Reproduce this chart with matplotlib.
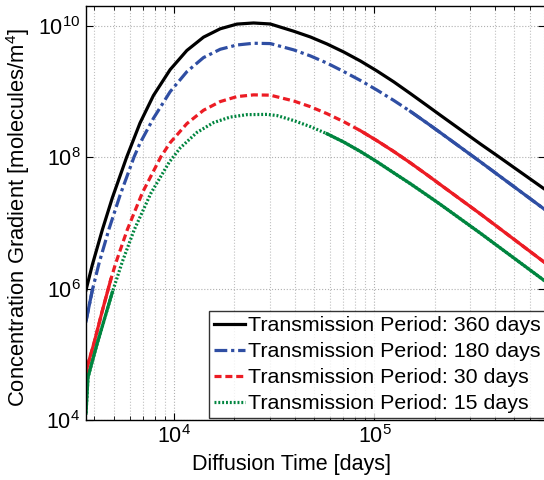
import numpy as np
import matplotlib
matplotlib.use('Agg')
import matplotlib.pyplot as plt
from matplotlib.ticker import FixedLocator, LogLocator, NullFormatter, NullLocator

plt.rcParams['font.family'] = ['Liberation Sans', 'DejaVu Sans']
plt.rcParams['mathtext.fontset'] = 'custom'
plt.rcParams['mathtext.rm'] = 'Liberation Sans'
plt.rcParams['mathtext.it'] = 'Liberation Sans:italic'

# Diffusion time [days] and concentration gradient
x_360 = [3631, 3905, 4381, 4915, 5801, 6761, 7880, 9550, 11574, 14016, 16982,
         20586, 24920, 30200, 39500, 47860, 58000, 70230, 85110, 103000,
         124900, 151400, 183400, 213800, 338800, 410800, 707900]
y_360 = [9.49e5, 2.30e6, 7.85e6, 2.41e7, 1.01e8, 3.33e8, 8.67e8, 2.15e9,
         4.21e9, 6.71e9, 9.00e9, 1.061e10, 1.103e10, 1.065e10, 8.27e9, 6.76e9,
         5.28e9, 3.99e9, 2.91e9, 2.05e9, 1.40e9, 9.26e8, 6.08e8, 4.33e8,
         1.58e8, 1.05e8, 3.25e7]

x_180 = [3631, 3905, 4217, 4732, 5370, 6310, 6761, 7880, 9550, 11574, 14016,
         16982, 20586, 24920, 30200, 39500, 47860, 58000, 70230, 85110,
         103000, 124900, 151400, 183400, 213800, 338800, 707900]
y_180 = [3.20e5, 9.46e5, 2.42e6, 8.11e6, 2.63e7, 1.01e8, 1.64e8, 3.90e8,
         9.93e8, 2.00e9, 3.28e9, 4.39e9, 5.10e9, 5.42e9, 5.36e9, 4.30e9,
         3.48e9, 2.70e9, 2.01e9, 1.47e9, 1.05e9, 7.30e8, 4.96e8, 3.29e8,
         2.35e8, 8.45e7, 1.60e7]

x_30 = [3631, 3686, 3981, 4381, 4826, 5110, 5842, 6943, 8579, 9550, 11574,
        14016, 16982, 20586, 24920, 30200, 39500, 47860, 58000, 70230, 85110,
        103000, 124900, 151400, 183400, 213800, 338800, 707900]
y_30 = [3.06e4, 6.50e4, 1.48e5, 4.61e5, 1.37e6, 2.44e6, 7.94e6, 2.88e7,
        1.01e8, 1.66e8, 3.24e8, 5.18e8, 7.02e8, 8.36e8, 8.88e8, 8.79e8,
        7.17e8, 5.87e8, 4.59e8, 3.47e8, 2.53e8, 1.78e8, 1.22e8, 8.16e7,
        5.36e7, 3.80e7, 1.36e7, 2.49e6]

x_15 = [3631, 3715, 3905, 4136, 4915, 5514, 6310, 7646, 9441, 10715, 12990,
        15730, 19050, 23090, 29070, 32620, 39500, 47860, 58000, 70230, 85110,
        103000, 124900, 151400, 183400, 213800, 338800, 707900]
y_15 = [1.27e4, 4.44e4, 7.85e4, 1.48e5, 8.81e5, 2.57e6, 7.76e6, 2.81e7,
        8.36e7, 1.38e8, 2.38e8, 3.36e8, 4.08e8, 4.44e8, 4.48e8, 4.30e8,
        3.61e8, 2.92e8, 2.27e8, 1.70e8, 1.22e8, 8.51e7, 5.77e7, 3.93e7,
        2.63e7, 1.90e7, 6.92e6, 1.31e6]

y_ticks = [1e4, 1e6, 1e8, 1e10]
x_ticks = [1e4, 1e5]

labels = ['Transmission Period: 360 days', 'Transmission Period: 180 days',
          'Transmission Period: 30 days', 'Transmission Period: 15 days']

# (x, y, color, linestyle, where the dense sampling makes it look solid: below / above)
series = [
    (x_360, y_360, 'black', '-', None, None),
    (x_180, y_180, '#2f4ea3', (0, (4, 1.2, 1, 1.2)), 3910, 150000),
    (x_30, y_30, '#ec1c24', (0, (2.2, 1.2)), 4830, 85000),
    (x_15, y_15, '#00853f', (0, (0.6, 0.6)), 4920, 52000),
]

fig = plt.figure(figsize=(5.44, 4.8), dpi=100)
ax = fig.add_axes([86 / 544, 60 / 480, 459 / 544, 414 / 480])

lw = 2.3
for (x, y, c, ls, lo, hi), lab in zip(series, labels):
    x = np.array(x)
    y = np.array(y)
    ax.plot(x, y, color=c, linestyle=ls, linewidth=lw, label=lab)
    if hi is not None:
        m = x >= hi
        ax.plot(x[m], y[m], color=c, linestyle='-', linewidth=lw)
        m = x <= lo
        if m.sum() > 1:
            ax.plot(x[m], y[m], color=c, linestyle='-', linewidth=lw)

ax.set_xscale('log')
ax.set_yscale('log')
ax.set_xlim(3631, 7.1e5)
ax.set_ylim(1e4, 2e10)

ax.yaxis.set_major_locator(FixedLocator(y_ticks))
ax.yaxis.set_minor_locator(NullLocator())
ax.xaxis.set_major_locator(FixedLocator(x_ticks))
ax.xaxis.set_minor_locator(LogLocator(base=10, subs=np.arange(2, 10)))
ax.xaxis.set_minor_formatter(NullFormatter())

ax.grid(True, which='major', linestyle=':', color='#b0b0b0', linewidth=0.8)
ax.grid(True, which='minor', axis='x', linestyle=':', color='#c0c0c0', linewidth=0.8)

ax.tick_params(which='both', direction='in', top=True, right=True, labelsize=15.5)
ax.tick_params(which='major', length=5, pad=4)
ax.tick_params(which='minor', length=3)
for s in ax.spines.values():
    s.set_linewidth(1.0)

ax.set_xlabel('Diffusion Time [days]', fontsize=15.5)
ax.set_ylabel('Concentration Gradient [molecules/m$^4$]', fontsize=15.8)
ax.xaxis.set_label_coords((292 - 86) / 459, -0.083)
ax.yaxis.set_label_coords(-0.118, 0.49)

leg = ax.legend(loc='lower right', bbox_to_anchor=(1.003, 0.004), fontsize=15.4,
                frameon=True, fancybox=False, edgecolor='black',
                handlelength=1.45, handletextpad=0.15, labelspacing=0.32,
                borderpad=0.25, borderaxespad=0.0)
leg.get_frame().set_linewidth(1.0)

fig.savefig('out.png', dpi=100)
